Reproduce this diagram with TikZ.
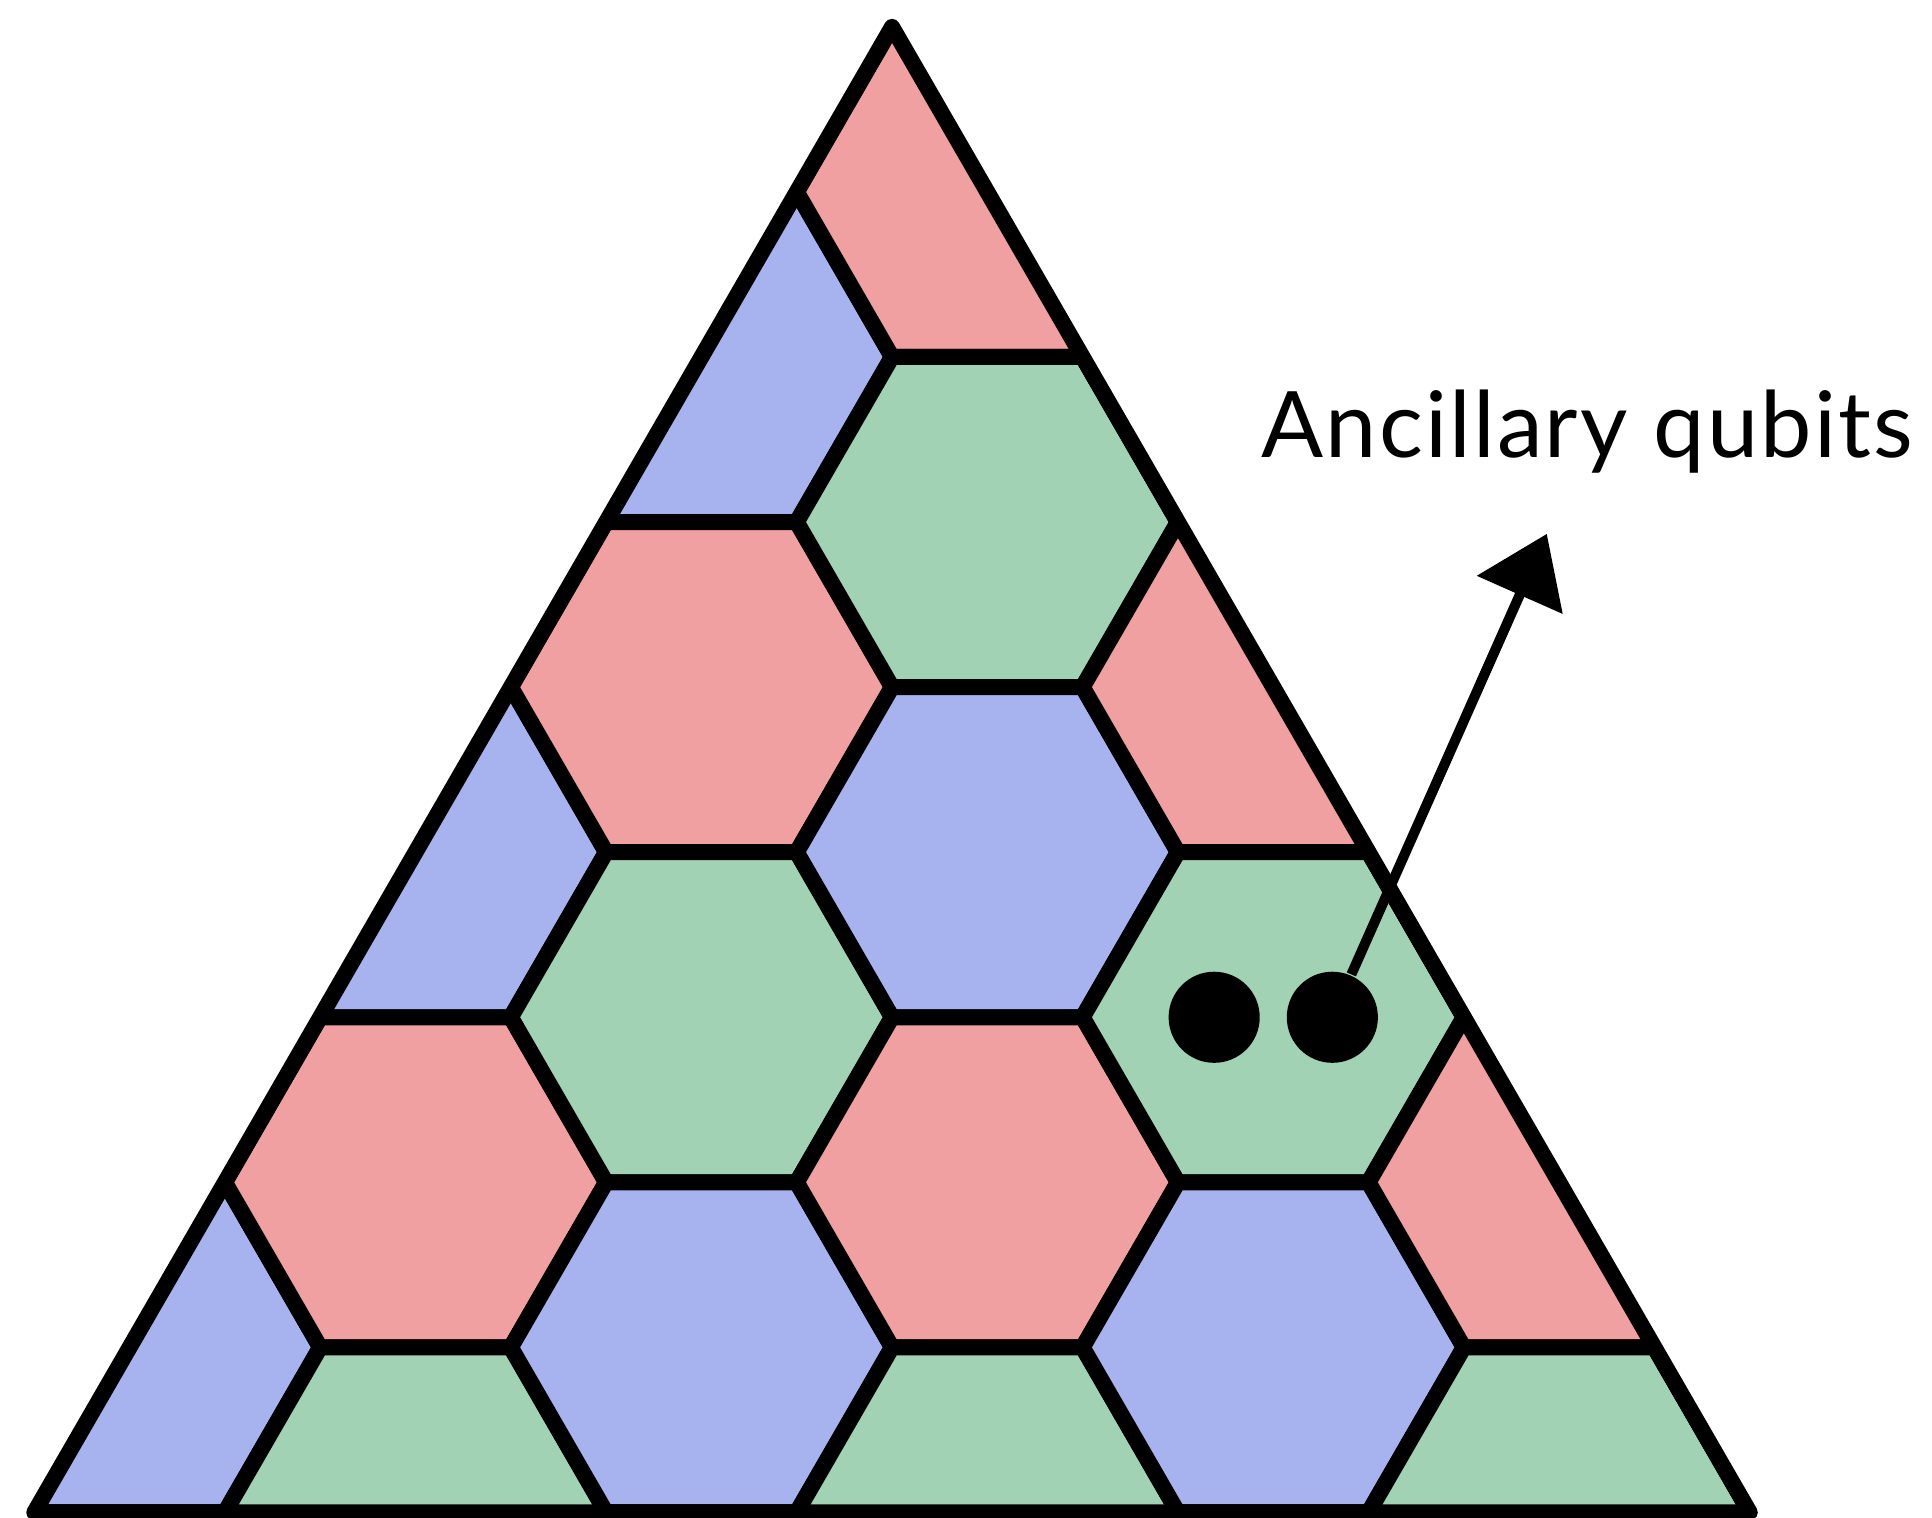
\documentclass[tikz,border=0pt]{standalone}
\usepackage{fontspec}
\setmainfont{Lato}[LetterSpace=2.4]
\usetikzlibrary{arrows.meta}

\definecolor{hexred}{RGB}{241,160,162}
\definecolor{hexblue}{RGB}{167,179,238}
\definecolor{hexgreen}{RGB}{161,210,179}

\begin{document}
\begin{tikzpicture}[
    >=Stealth,
    hexcell/.style={draw=black, line width=0.084cm, line join=round},
    border/.style={draw=black, line width=0.084cm, line join=round},
    qubit/.style={circle, fill=black, inner sep=0pt, minimum size=0.478cm},
    tag/.style={font=\fontsize{13.7}{16}\selectfont, inner sep=0pt, anchor=base west},
    arrow/.style={-{Triangle[length=3.5mm, width=4.8mm]}, line width=1.5pt}
]
  \useasboundingbox (-4.680,-0.024) rectangle (5.456,7.935);

  % triangle corners (hexagon side = 1)
  \coordinate (top) at (0,7.794);
  \coordinate (bl) at (-4.5,0);
  \coordinate (br) at (4.5,0);

  % colour cells, clipped to the triangle
  \begin{scope}
    \clip (top) -- (bl) -- (br) -- cycle;
    \foreach \a in {-3,...,3} {
      \foreach \b in {-2,...,6} {
        \pgfmathsetmacro\cx{0.5+1.5*\a}
        \pgfmathsetmacro\cy{(8-\a-2*\b)*0.866025}
        \pgfmathtruncatemacro\col{mod(\a+2*\b+9,3)}
        \ifcase\col \def\cc{hexred}\or \def\cc{hexblue}\or \def\cc{hexgreen}\fi
        \draw[hexcell, fill=\cc] (\cx+1,\cy) -- ++(120:1) -- ++(180:1)
          -- ++(240:1) -- ++(300:1) -- ++(0:1) -- cycle;
      }
    }
  \end{scope}
  \draw[border] (top) -- (bl) -- (br) -- cycle;

  % ancillas in the green cell
  \node[qubit] (q1) at (1.690,2.598) {};
  \node[qubit] (q2) at (2.310,2.598) {};

  \node[tag] (anc) at (1.931,5.535) {Ancillary qubits};
  \coordinate (tip) at (3.435,5.134);
  \draw[arrow] (q2) -- (tip);
\end{tikzpicture}
\end{document}
